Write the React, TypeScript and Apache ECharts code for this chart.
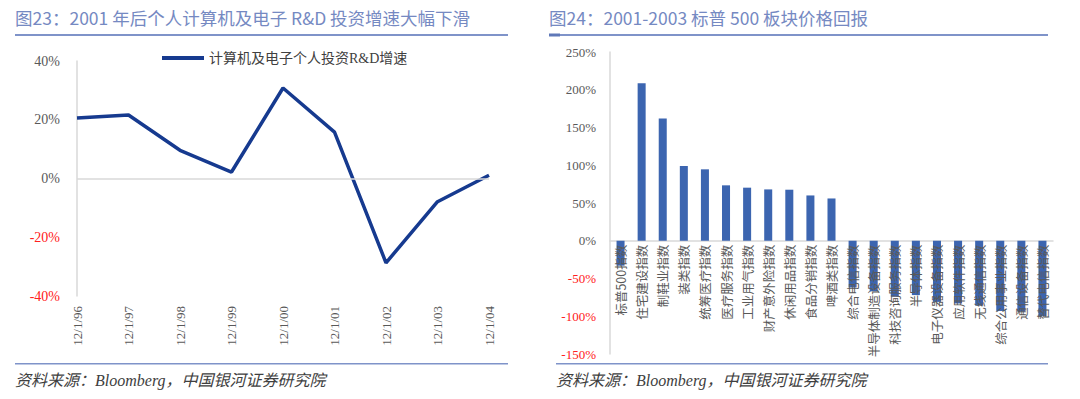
import React, { useEffect, useRef } from "react";
import * as echarts from "echarts";

const leftDates = ["12/1/96", "12/1/97", "12/1/98", "12/1/99", "12/1/00", "12/1/01", "12/1/02", "12/1/03", "12/1/04"];
const rdGrowth = [20.6, 21.6, 9.6, 2.2, 30.8, 15.8, -28.7, -7.9, 1.1];
const leftSeriesName = "计算机及电子个人投资R&D增速";

const sectors = [
  "标普500指数", "住宅建设指数", "制鞋业指数", "装类指数", "统筹医疗指数", "医疗服务指数",
  "工业用气指数", "财产意外险指数", "休闲用品指数", "食品分销指数", "啤酒类指数",
  "综合电信指数", "半导体制造设备指数", "科技咨询服务指数", "半导体指数", "电子仪器设备指数",
  "应用软件指数", "无线通信指数", "综合公用事业指数", "通信设备指数", "替代电信指数",
];
const sectorReturns = [
  -33, 208.6, 161.8, 99, 94.6, 73.4, 70.3, 68, 67.6, 60, 56,
  -62, -67, -74, -72, -81, -83, -86, -93, -94, -100,
];

const leftTitle = "图23：2001 年后个人计算机及电子 R&D 投资增速大幅下滑";
const rightTitle = "图24：2001-2003 标普 500 板块价格回报";
const sourceText = "资料来源：Bloomberg，中国银河证券研究院";

const SERIF = "'Liberation Serif', 'Noto Sans CJK SC', serif";
const CJK = "'Noto Sans CJK SC', sans-serif";

// right grid geometry
const R_TOP = 52;
const R_BOTTOM = 45;
const R_MIN = -150;
const R_MAX = 250;
const R_HEIGHT = 399 - R_TOP - R_BOTTOM;
const R_ZERO_OFFSET = -(R_HEIGHT * (0 - R_MIN)) / (R_MAX - R_MIN);

export default function App() {
  const ref = useRef<HTMLDivElement>(null);
  useEffect(() => {
    if (!ref.current) return;
    const chart = echarts.init(ref.current, undefined, { renderer: "svg" });
    const pctRich = (size: number) => ({
      pos: { color: "#595959", fontFamily: SERIF, fontSize: size },
      neg: { color: "#FF2020", fontFamily: SERIF, fontSize: size },
    });
    const pctFmt = (v: number) => (v < 0 ? `{neg|${v}%}` : `{pos|${v}%}`);
    const titleLineColor = "#7f93c9";
    chart.setOption({
      animation: false,
      backgroundColor: "#ffffff",
      legend: {
        data: [leftSeriesName],
        left: 157,
        top: 46,
        icon: "rect",
        itemWidth: 42,
        itemHeight: 4,
        itemGap: 4,
        textStyle: { color: "#404040", fontSize: 14, fontFamily: SERIF },
      },
      grid: [
        { left: 77, right: 591, top: 61, bottom: 103, outerBoundsMode: "none", containLabel: false },
        { left: 610, right: 27, top: R_TOP, bottom: R_BOTTOM, outerBoundsMode: "none", containLabel: false },
      ],
      xAxis: [
        {
          type: "category",
          gridIndex: 0,
          data: leftDates,
          boundaryGap: false,
          axisLine: { show: false, onZero: false },
          axisTick: { show: false },
          axisLabel: { rotate: 90, margin: 10, color: "#595959", fontSize: 13, fontFamily: SERIF },
        },
        {
          type: "category",
          gridIndex: 1,
          data: sectors,
          axisLine: { show: true, onZero: true, lineStyle: { color: "#d9d9d9", width: 1.5 } },
          axisTick: { show: false },
          axisLabel: { show: false },
        },
        {
          type: "category",
          gridIndex: 1,
          data: sectors,
          position: "bottom",
          offset: R_ZERO_OFFSET,
          z: 10,
          axisLine: { show: false, onZero: false },
          axisTick: { show: false },
          axisLabel: { rotate: 90, interval: 0, margin: 4, color: "#595959", fontSize: 12.5, fontFamily: CJK },
        },
      ],
      yAxis: [
        {
          type: "value",
          gridIndex: 0,
          min: -40,
          max: 40,
          interval: 20,
          axisLine: { show: true, lineStyle: { color: "#d9d9d9", width: 1.5 } },
          axisTick: { show: false },
          splitLine: { show: false },
          axisLabel: { margin: 17, formatter: pctFmt, rich: pctRich(14) },
        },
        {
          type: "value",
          gridIndex: 1,
          min: R_MIN,
          max: R_MAX,
          interval: 50,
          axisLine: { show: true, lineStyle: { color: "#d9d9d9", width: 1.5 } },
          axisTick: { show: false },
          splitLine: { show: false },
          axisLabel: { margin: 14, formatter: pctFmt, rich: pctRich(13) },
        },
      ],
      series: [
        {
          name: leftSeriesName,
          type: "line",
          xAxisIndex: 0,
          yAxisIndex: 0,
          data: rdGrowth,
          showSymbol: false,
          symbol: "none",
          lineStyle: { color: "#163A8F", width: 3.5 },
          itemStyle: { color: "#163A8F" },
          markLine: {
            silent: true,
            symbol: "none",
            label: { show: false },
            lineStyle: { color: "#d9d9d9", width: 1.5, type: "solid" },
            data: [{ yAxis: 0 }],
          },
        },
        {
          name: "板块价格回报",
          type: "bar",
          xAxisIndex: 1,
          yAxisIndex: 1,
          data: sectorReturns,
          barWidth: "38%",
          itemStyle: { color: "#3C65B0" },
          z: 1,
        },
      ],
      graphic: [
        { type: "text", left: 15, top: 9, style: { text: leftTitle, fill: "#7589c2", fontSize: 17.5, fontFamily: CJK } },
        { type: "text", left: 549, top: 9, style: { text: rightTitle, fill: "#7589c2", fontSize: 17.5, fontFamily: CJK } },
        { type: "rect", shape: { x: 15, y: 34, width: 493, height: 2 }, style: { fill: titleLineColor } },
        { type: "rect", shape: { x: 549, y: 34, width: 499, height: 2 }, style: { fill: titleLineColor } },
        { type: "rect", shape: { x: 549, y: 33.5, width: 11, height: 3 }, style: { fill: "#5f78b8" } },
        { type: "rect", shape: { x: 15, y: 363, width: 493, height: 1.5 }, style: { fill: titleLineColor } },
        { type: "rect", shape: { x: 556, y: 363, width: 492, height: 1.5 }, style: { fill: titleLineColor } },
        { type: "text", left: 15, top: 372, style: { text: sourceText, fill: "#404040", fontSize: 16, fontStyle: "italic", fontFamily: SERIF } },
        { type: "text", left: 556, top: 372, style: { text: sourceText, fill: "#404040", fontSize: 16, fontStyle: "italic", fontFamily: SERIF } },
      ],
    });
    return () => chart.dispose();
  }, []);
  return (
    <div
      ref={ref}
      style={{ position: "fixed", left: 0, top: 0, width: 1080, height: 399, background: "#fff" }}
    />
  );
}
